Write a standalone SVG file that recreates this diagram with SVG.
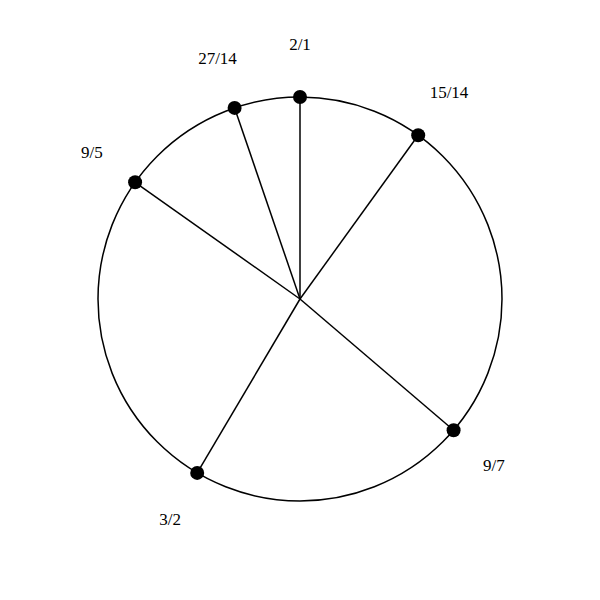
<svg xmlns="http://www.w3.org/2000/svg" width="600" height="600" viewBox="0 0 600 600">
<style>
.ln{stroke:#000;stroke-width:1.5;fill:none}
.dot{fill:#000}
.lb{font-family:"Liberation Serif",serif;font-size:17px;text-anchor:middle;fill:#000}
</style>
<rect width="600" height="600" fill="#fff"/>
<circle id="ring" cx="300" cy="299" r="202" class="ln"/>
<g id="connectors">
<line x1="300" y1="299" x2="300" y2="97" class="ln"/>
<line x1="300" y1="299" x2="418.2" y2="135.2" class="ln"/>
<line x1="300" y1="299" x2="453.6" y2="430.2" class="ln"/>
<line x1="300" y1="299" x2="197.2" y2="472.9" class="ln"/>
<line x1="300" y1="299" x2="135.1" y2="182.3" class="ln"/>
<line x1="300" y1="299" x2="234.6" y2="107.9" class="ln"/>
</g>
<g id="n-2-1"><circle cx="300" cy="97" r="7" class="dot"/><text x="300" y="50" class="lb">2/1</text></g>
<g id="n-15-14"><circle cx="418.2" cy="135.2" r="7" class="dot"/><text x="449" y="98.2" class="lb">15/14</text></g>
<g id="n-9-7"><circle cx="453.6" cy="430.2" r="7" class="dot"/><text x="493.9" y="470.6" class="lb">9/7</text></g>
<g id="n-3-2"><circle cx="197.2" cy="472.9" r="7" class="dot"/><text x="170.2" y="524.5" class="lb">3/2</text></g>
<g id="n-9-5"><circle cx="135.1" cy="182.3" r="7" class="dot"/><text x="91.8" y="157.7" class="lb">9/5</text></g>
<g id="n-27-14"><circle cx="234.6" cy="107.9" r="7" class="dot"/><text x="217.5" y="63.7" class="lb">27/14</text></g>
</svg>
